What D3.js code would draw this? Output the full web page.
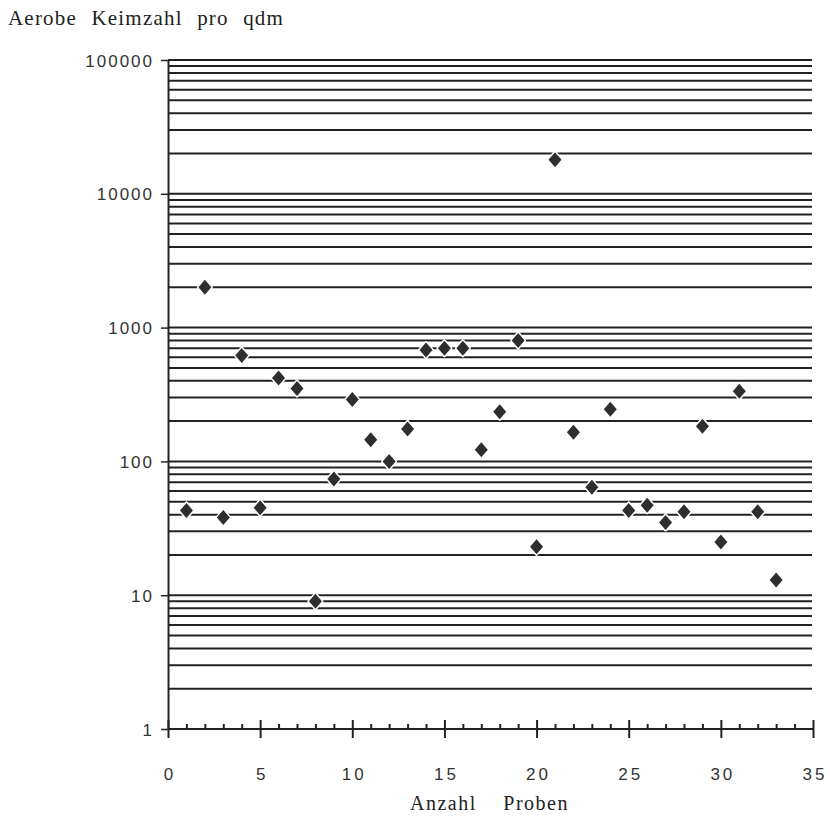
<!DOCTYPE html>
<html>
<head>
<meta charset="utf-8">
<script src="https://cdn.jsdelivr.net/npm/d3@7"></script>
<style>
  html, body { margin: 0; padding: 0; background: #fff; }
  svg { display: block; }
</style>
</head>
<body>
<svg id="chart" width="830" height="816"></svg>
<script>
// ---- data ----
const samples = [1,2,3,4,5,6,7,8,9,10,11,12,13,14,15,16,17,18,19,20,21,22,23,24,25,26,27,28,29,30,31,32,33];
const counts  = [43,2000,38,620,45,420,350,9,74,290,145,100,175,680,700,700,122,235,800,23,18000,165,64,245,43,47,35,42,183,25,335,42,13];
const yDecades = [1,10,100,1000,10000,100000];
const yTickLabels = ["1","10","100","1000","10000","100000"];
const xMajor = [0,5,10,15,20,25,30,35];
const xTickLabels = ["0","5","10","15","20","25","30","35"];
const titleText = "Aerobe Keimzahl pro qdm";
const xTitleText = "Anzahl Proben";

// ---- layout ----
const svg = d3.select("#chart");
const x = d3.scaleLinear().domain([0, 35]).range([168, 813]);
const y = d3.scaleLog().domain([1, 100000]).range([729, 60]);
const ink = "#222";
const sans = "'Liberation Sans', Arial, sans-serif";
const serif = "'Liberation Serif', 'Times New Roman', serif";

// gridlines at every log minor value (except the base line at 1)
const gridVals = y.ticks().filter(v => v > 1);
svg.append("g").selectAll("line").data(gridVals).join("line")
  .attr("x1", x(0)).attr("x2", 812)
  .attr("y1", d => y(d)).attr("y2", d => y(d))
  .attr("stroke", ink).attr("stroke-width", 2);

// y axis
const yAxis = d3.axisLeft(y).tickValues(yDecades)
  .tickFormat((d, i) => yTickLabels[i]).tickSize(7).tickSizeOuter(0);
const gy = svg.append("g").attr("transform", `translate(${x(0)},0)`).call(yAxis);
gy.select(".domain").attr("stroke", ink).attr("stroke-width", 2);
gy.selectAll(".tick line").attr("stroke", ink).attr("stroke-width", 1.5);
gy.selectAll(".tick text").attr("x", -14).attr("dy", "0.36em")
  .style("font-family", sans).style("font-size", "17px")
  .style("letter-spacing", "2px").attr("fill", "#333");

// x axis baseline
svg.append("line").attr("x1", x(0)).attr("x2", x(35))
  .attr("y1", y(1)).attr("y2", y(1)).attr("stroke", ink).attr("stroke-width", 2);

// minor x ticks (upward)
const minor = d3.range(1, 35).filter(v => v % 5 !== 0);
const xMinorAxis = d3.axisBottom(x).tickValues(minor).tickSize(-5).tickFormat("").tickSizeOuter(0);
const gxm = svg.append("g").attr("transform", `translate(0,${y(1)})`).call(xMinorAxis);
gxm.select(".domain").remove();
gxm.selectAll(".tick line").attr("stroke", ink).attr("stroke-width", 2);

// major x ticks (crossing) with labels
const xAxis = d3.axisBottom(x).tickValues(xMajor)
  .tickFormat((d, i) => xTickLabels[i]).tickSize(9).tickSizeOuter(0);
const gx = svg.append("g").attr("transform", `translate(0,${y(1)})`).call(xAxis);
gx.select(".domain").remove();
gx.selectAll(".tick line").attr("y1", -9).attr("y2", 9).attr("stroke", ink).attr("stroke-width", 2);
gx.selectAll(".tick text").attr("y", 51).attr("dy", 0).attr("dx", "1.5px")
  .style("font-family", sans).style("font-size", "17px")
  .style("letter-spacing", "3px").attr("fill", "#333");

// points: diamonds with white halo
const diamond = {
  draw(ctx, size) {
    const w = 6.5, h = 7.5;
    ctx.moveTo(0, -h); ctx.lineTo(w, 0); ctx.lineTo(0, h); ctx.lineTo(-w, 0); ctx.closePath();
  }
};
svg.append("g").selectAll("path").data(samples).join("path")
  .attr("transform", (d, i) => `translate(${x(d)},${y(counts[i])})`)
  .attr("d", d3.symbol().type(diamond))
  .attr("fill", "#2e2e2e")
  .attr("stroke", "#fff").attr("stroke-width", 3)
  .attr("stroke-linejoin", "round")
  .attr("paint-order", "stroke");

// titles
svg.append("text").attr("x", 8).attr("y", 25).text(titleText)
  .style("font-family", serif).style("font-size", "21px")
  .style("letter-spacing", "1.2px").style("word-spacing", "8px")
  .attr("fill", "#222");
svg.append("text").attr("x", 410).attr("y", 810).text(xTitleText)
  .style("font-family", serif).style("font-size", "20px")
  .style("letter-spacing", "1.5px").style("word-spacing", "20px")
  .attr("fill", "#222");
</script>
</body>
</html>
